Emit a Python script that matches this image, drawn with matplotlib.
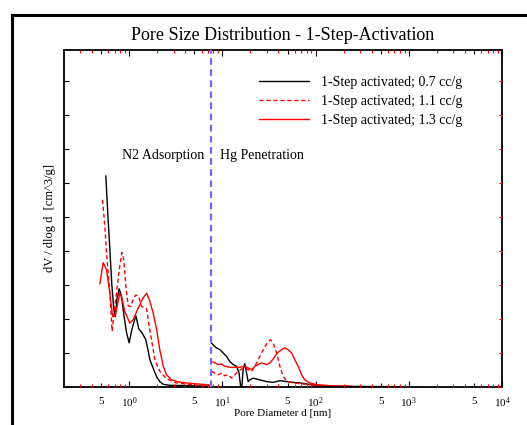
import matplotlib
matplotlib.use("Agg")
import matplotlib.pyplot as plt
from matplotlib.ticker import FixedLocator, FixedFormatter, NullFormatter
from matplotlib.lines import Line2D

plt.rcParams['font.family'] = ['Liberation Serif', 'DejaVu Serif']
plt.rcParams['mathtext.fontset'] = 'custom'
plt.rcParams['mathtext.rm'] = 'Liberation Serif'
plt.rcParams['mathtext.it'] = 'Liberation Serif:italic'

# pore diameter d [nm] and dV/dlog d (arbitrary units, one tick = 1)
# 1-step activated, 0.7 cc/g
d_07_n2 = [0.562, 0.591, 0.621, 0.652, 0.685, 0.711, 0.738, 0.781, 0.825, 0.877,
           0.938, 1.0, 1.069, 1.18, 1.27, 1.37, 1.51, 1.59, 1.67, 1.80, 1.97,
           2.13, 2.32, 2.73, 3.50, 5.74, 7.16]
v_07_n2 = [6.21, 5.07, 4.04, 3.01, 2.27, 2.07, 2.57, 2.89, 2.69, 2.13,
           1.60, 1.30, 1.69, 2.10, 1.71, 1.60, 1.39, 1.10, 0.80, 0.57, 0.30,
           0.16, 0.08, 0.05, 0.045, 0.03, 0.02]
d_07_hg = [7.66, 7.96, 8.66, 9.40, 9.80, 11.1, 12.0, 13.1, 14.2, 15.1, 15.7,
           16.2, 16.7, 17.4, 18.2, 18.9, 19.7, 21.4, 25.2, 29.8, 35.1, 41.4,
           48.9, 57.5, 67.9, 80.0, 94.2, 142, 800]
v_07_hg = [1.29, 1.24, 1.15, 1.10, 1.05, 0.90, 0.75, 0.66, 0.61, 0.41, 0.02,
           0.02, 0.51, 0.69, 0.41, 0.16, 0.21, 0.26, 0.21, 0.16, 0.135, 0.185,
           0.16, 0.135, 0.12, 0.09, 0.06, 0.02, 0.01]

# 1-step activated, 1.1 cc/g
d_11_n2 = [0.518, 0.549, 0.572, 0.621, 0.657, 0.690, 0.732, 0.781, 0.835, 0.877,
           0.922, 0.976, 1.035, 1.104, 1.18, 1.26, 1.36, 1.44, 1.54, 1.64,
           1.74, 1.89, 2.13, 2.52, 3.23, 4.86, 7.34]
v_11_n2 = [5.51, 4.72, 3.95, 2.77, 1.64, 2.19, 2.77, 3.44, 3.96, 3.74,
           2.96, 2.39, 2.37, 2.57, 2.71, 2.67, 2.37, 2.35, 2.30, 1.78,
           1.39, 0.80, 0.46, 0.24, 0.12, 0.06, 0.02]
d_11_hg = [7.66, 8.31, 9.02, 9.80, 10.6, 11.5, 12.6, 13.6, 14.8, 16.1, 17.4,
           18.9, 20.6, 22.3, 24.2, 26.3, 28.6, 31.0, 32.9, 35.1, 38.2, 41.4,
           44.9, 49.6, 57.5, 73.6, 94.2, 142, 299]
v_11_hg = [0.46, 0.41, 0.36, 0.41, 0.33, 0.36, 0.26, 0.36, 0.46, 0.53, 0.56,
           0.51, 0.46, 0.61, 0.80, 1.00, 1.19, 1.34, 1.39, 1.29, 1.00, 0.61,
           0.31, 0.16, 0.12, 0.09, 0.06, 0.03, 0.015]

# 1-step activated, 1.3 cc/g
d_13_n2 = [0.485, 0.526, 0.572, 0.621, 0.664, 0.702, 0.743, 0.795, 0.835, 0.899,
           1.017, 1.104, 1.249, 1.41, 1.54, 1.67, 1.81, 1.97, 2.13, 2.32,
           2.52, 2.85, 3.50, 4.86, 7.34]
v_13_n2 = [3.04, 3.66, 3.45, 2.76, 2.08, 2.08, 2.37, 2.76, 2.62, 2.22,
           1.88, 1.98, 2.32, 2.62, 2.76, 2.52, 2.18, 1.69, 1.10, 0.61,
           0.36, 0.21, 0.14, 0.10, 0.06]
d_13_hg = [7.66, 8.31, 9.02, 9.80, 10.6, 12.0, 13.6, 15.4, 17.4, 18.9, 20.6,
           22.3, 24.2, 26.3, 29.8, 32.4, 35.7, 38.7, 43.2, 46.9, 50.8, 55.3,
           60.0, 65.0, 70.8, 76.7, 86.8, 102.5, 142, 233]
v_13_hg = [0.75, 0.71, 0.66, 0.68, 0.61, 0.58, 0.58, 0.58, 0.61, 0.56, 0.51,
           0.61, 0.66, 0.71, 0.66, 0.71, 0.85, 1.00, 1.10, 1.15, 1.10, 1.00,
           0.80, 0.61, 0.36, 0.21, 0.12, 0.07, 0.04, 0.02]

labels = ["1-Step activated; 0.7 cc/g", "1-Step activated; 1.1 cc/g",
          "1-Step activated; 1.3 cc/g"]
d_split = 7.5  # N2 / Hg boundary

decades = [1, 10, 100, 1000, 10000]
decade_labels = [r'$10^{0}$', r'$10^{1}$', r'$10^{2}$', r'$10^{3}$', r'$10^{4}$']
fives = [0.5, 5, 50, 500, 5000]
red_minor = [m * 10.0 ** k for k in range(-1, 4) for m in (2, 3, 4, 6, 7, 8, 9)
             if m * 10.0 ** k > 0.21]
yticks = list(range(10))

W, H = 527, 425
fig = plt.figure(figsize=(W / 100, H / 100), dpi=100)
pos = [64 / W, 1 - 387 / H, (502 - 64) / W, (387 - 50) / H]
ax = fig.add_axes(pos)

ax.plot(d_07_n2, v_07_n2, color='black', lw=1.0, label=labels[0])
ax.plot(d_07_hg, v_07_hg, color='black', lw=1.0)
ax.plot(d_11_n2, v_11_n2, color='red', lw=1.0, dashes=(3, 2), label=labels[1])
ax.plot(d_11_hg, v_11_hg, color='red', lw=1.0, dashes=(3, 2))
ax.plot(d_13_n2, v_13_n2, color='red', lw=1.0, label=labels[2])
ax.plot(d_13_hg, v_13_hg, color='red', lw=1.0)
ax.axvline(d_split, color='#6b6bff', lw=1.6, dashes=(3, 2), zorder=5)

ax.set_xscale('log')
ax.set_xlim(0.2, 1e4)
ax.set_ylim(0, 9.92)

ax.xaxis.set_major_locator(FixedLocator(decades))
ax.xaxis.set_major_formatter(FixedFormatter(decade_labels))
ax.xaxis.set_minor_locator(FixedLocator(fives))
ax.xaxis.set_minor_formatter(FixedFormatter(['5'] * len(fives)))
ax.tick_params(axis='x', which='major', direction='in', length=4.3, width=0.8,
               top=True, bottom=True, labelsize=8, pad=6)
ax.tick_params(axis='x', which='minor', direction='in', length=3.2, width=0.8,
               top=True, bottom=True, labelsize=8, pad=7)
ax.yaxis.set_major_locator(FixedLocator(yticks))
ax.yaxis.set_major_formatter(NullFormatter())
ax.tick_params(axis='y', which='major', direction='in', length=3.6, width=0.8,
               left=True, right=False)
for s in ax.spines.values():
    s.set_linewidth(1.3)

# red ticks drawn on a transparent overlay
ov = fig.add_axes(pos, frameon=False)
ov.set_xscale('log')
ov.set_xlim(0.2, 1e4)
ov.set_ylim(0, 9.92)
ov.xaxis.set_major_locator(FixedLocator(red_minor))
ov.xaxis.set_minor_locator(FixedLocator([]))
ov.yaxis.set_major_locator(FixedLocator(yticks))
ov.tick_params(axis='x', direction='in', length=2.2, width=0.8, color='red',
               top=True, bottom=True, labelbottom=False)
ov.tick_params(axis='y', direction='in', length=2.5, width=0.8, color='red',
               left=False, right=True, labelleft=False)

ax.set_title("Pore Size Distribution - 1-Step-Activation", fontsize=13, pad=7)
ax.set_xlabel("Pore Diameter d [nm]", fontsize=8, labelpad=-1)
ax.set_ylabel("dV / dlog d  [cm^3/g]", fontsize=9)
ax.yaxis.set_label_coords(-0.018, 0.5)

ax.text(0.829, 6.81, "N2 Adsorption", fontsize=10, va='center', ha='left')
ax.text(9.4, 6.81, "Hg Penetration", fontsize=10, va='center', ha='left')

ax.legend(loc='upper left', bbox_to_anchor=(259 / W, 1 - 76 / H),
          bbox_transform=fig.transFigure, frameon=False, fontsize=10,
          handlelength=3.6, handletextpad=0.85, labelspacing=0.42,
          borderpad=0, borderaxespad=0)

# outer frame of the plot window
fig.add_artist(Line2D([12 / W, 12 / W], [0, 1 - 15 / H], color='black', lw=2.2,
                      transform=fig.transFigure))
fig.add_artist(Line2D([12 / W, 1], [1 - 15 / H, 1 - 15 / H], color='black', lw=2.2,
                      transform=fig.transFigure))

fig.savefig("out.png", dpi=100)
plt.close(fig)
